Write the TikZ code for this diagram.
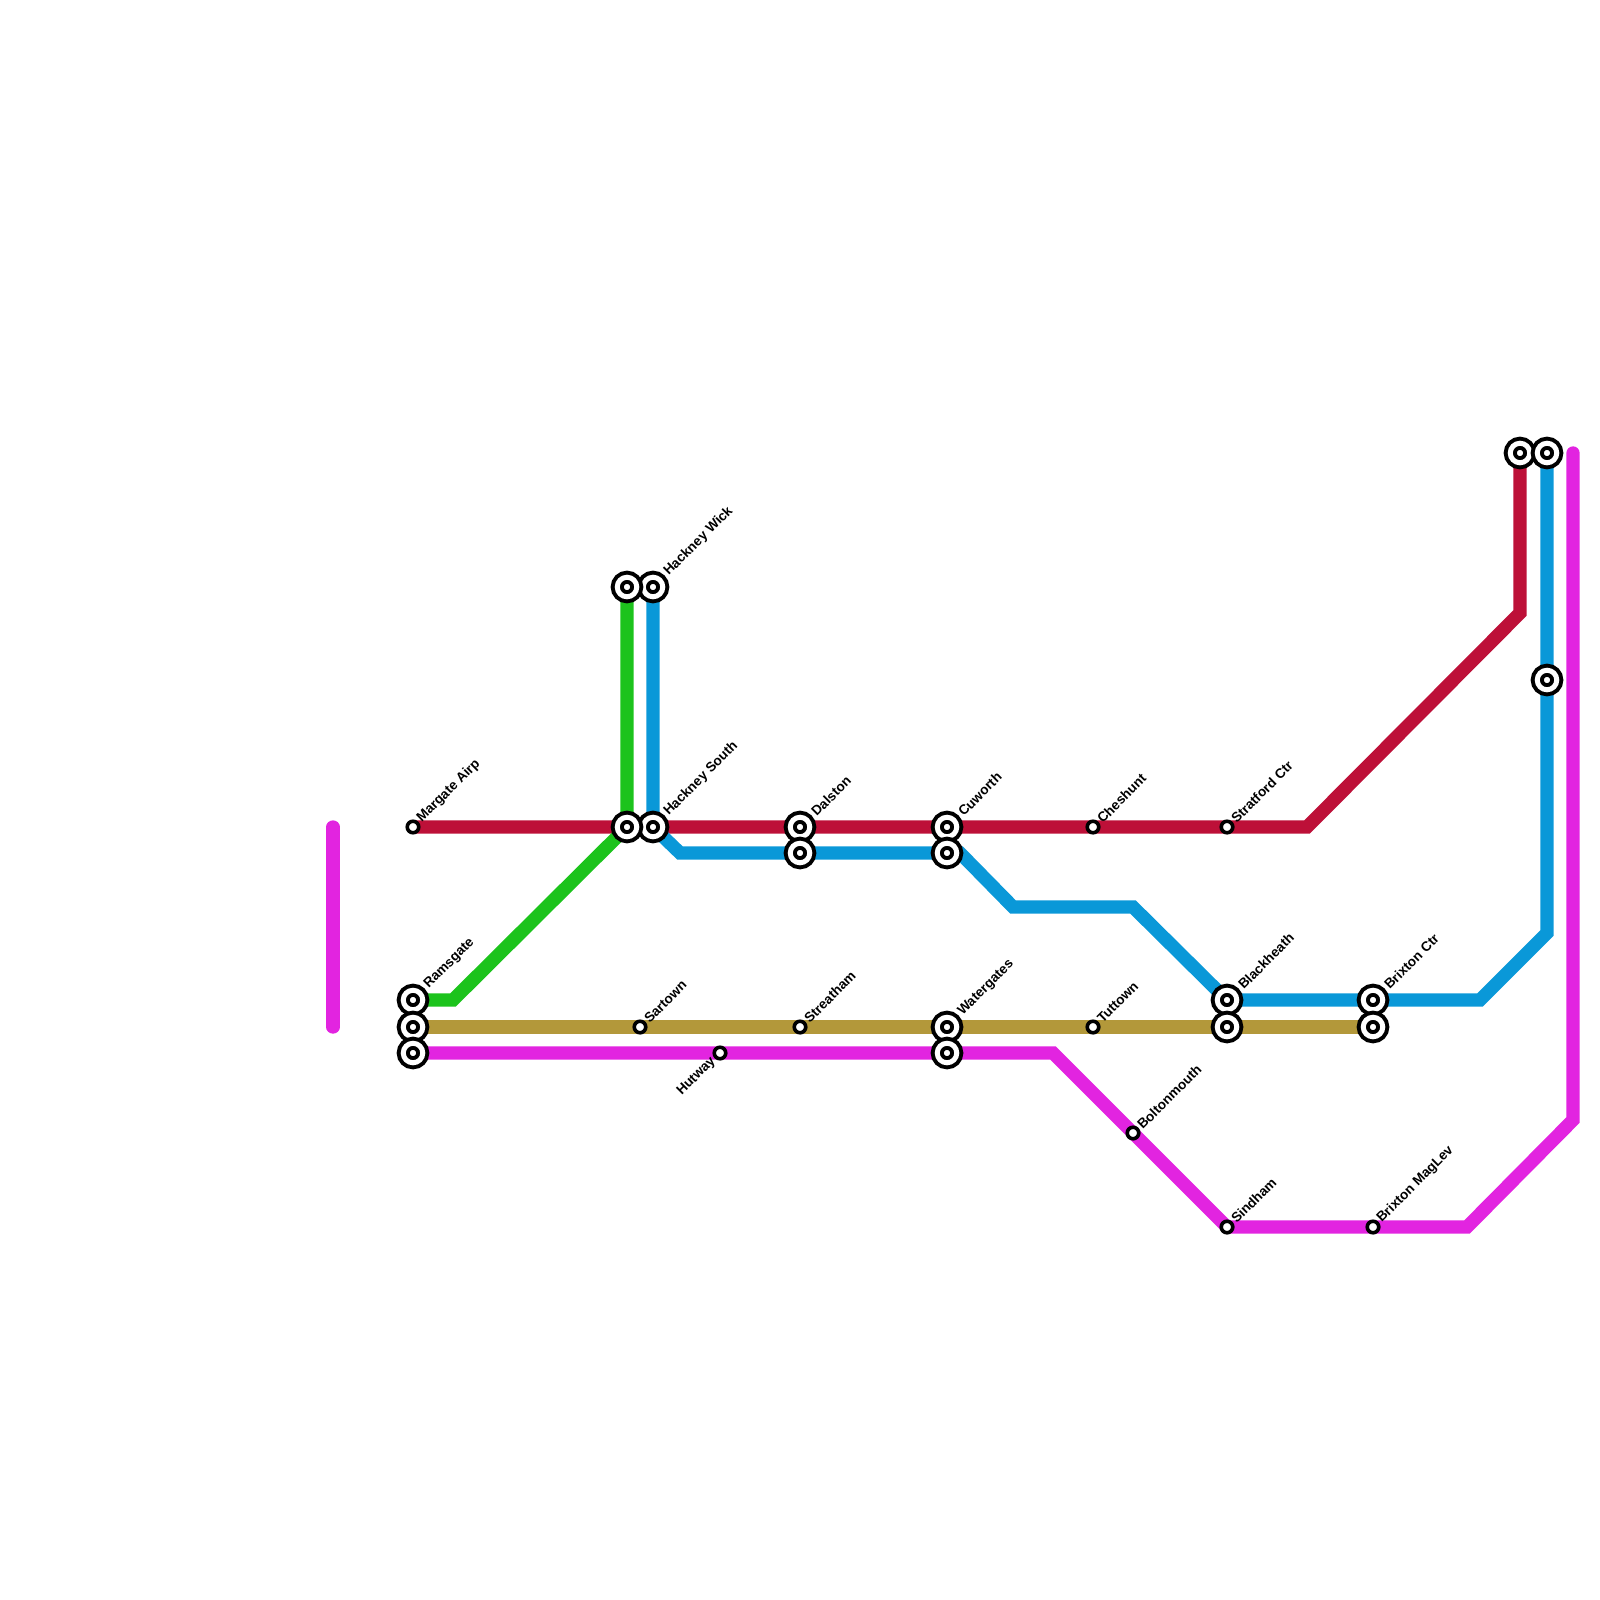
\documentclass[tikz,border=0pt]{standalone}
\usepackage{fontspec}
\setmainfont{Liberation Sans}
\usetikzlibrary{backgrounds}

\definecolor{redline}{RGB}{189,16,56}
\definecolor{greenline}{RGB}{28,195,28}
\definecolor{blueline}{RGB}{10,152,216}
\definecolor{goldline}{RGB}{179,152,58}
\definecolor{pinkline}{RGB}{226,36,224}

\tikzset{
    route/.style={line width=.133cm, line cap=round, line join=miter},
    stop/.style={shape=circle, draw=black, fill=white, line width=.036cm, minimum size=.115cm, inner sep=0pt, outer sep=0pt},
    xchange/.style={shape=circle, draw=black, fill=white, line width=.04cm, double=white, double distance=.05cm, minimum size=.195cm, inner sep=0pt, outer sep=0pt},
    stoptext/.style={rotate=45, anchor=west, inner sep=0pt, font=\bfseries\fontsize{3.85}{5}\selectfont},
}

\begin{document}
\begin{tikzpicture}[x=.01cm, y=-.01cm]
    \useasboundingbox (0,0) rectangle (1600,1600);

    % interchanges with a name beside them
    \foreach \n/\x/\y/\t in {ramsgate/413/1000/Ramsgate, hackneywick/653/587/Hackney Wick, hackneysouth/653/827/Hackney South, dalston/800/827/Dalston, cuworth/947/827/Cuworth, watergates/947/1027/Watergates, blackheath/1227/1000/Blackheath, brixtonctr/1373/1000/Brixton Ctr} {
        \node[xchange] (\n) at (\x,\y) {};
        \node[stoptext] (\n-text) at ([shift={(13,-13)}]\n) {\t};};

    % interchanges without one
    \foreach \n/\x/\y in {goldstart/413/1027, pinkstart/413/1053, greenend/627/587, greenmid/627/827, dalstonb/800/853, cuworthb/947/853, watergatesb/947/1053, blackheathb/1227/1027, goldend/1373/1027, redend/1520/453, blueend/1547/453, bluemid/1547/680} {
        \node[xchange] (\n) at (\x,\y) {};};

    % small stops
    \foreach \n/\x/\y/\t in {margate/413/827/Margate Airp, sartown/640/1027/Sartown, streatham/800/1027/Streatham, cheshunt/1093/827/Cheshunt, stratford/1227/827/Stratford Ctr, tuttown/1093/1027/Tuttown, boltonmouth/1133/1133/Boltonmouth, sindham/1227/1227/Sindham, maglev/1373/1227/Brixton MagLev} {
        \node[stop] (\n) at (\x,\y) {};
        \node[stoptext] (\n-text) at ([shift={(6,-6)}]\n) {\t};};
    \node[stop] (hutway) at (720,1053) {};
    \node[stoptext, anchor=east] (hutway-text) at ([shift={(-6,6)}]hutway) {Hutway};

    % bends
    \coordinate (redA) at (1307,827);
    \coordinate (redB) at (1520,613);
    \coordinate (greenA) at (453,1000);
    \coordinate (blueA) at (680,853);
    \coordinate (blueB) at (960,853);
    \coordinate (blueC) at (1013,907);
    \coordinate (blueD) at (1133,907);
    \coordinate (blueE) at (1480,1000);
    \coordinate (blueF) at (1547,933);
    \coordinate (pinkA) at (1053,1053);
    \coordinate (pinkB) at (1467,1227);
    \coordinate (pinkC) at (1573,1120);
    \coordinate (pinkD) at (1573,453);
    \coordinate (stubA) at (333,827);
    \coordinate (stubB) at (333,1027);

    % lines go under the stations
    \begin{scope}[on background layer]
        \draw[route, redline] (margate.center) -- (redA) -- (redB) -- (redend.center);
        \draw[route, greenline] (ramsgate.center) -- (greenA) -- (greenmid.center) -- (greenend.center);
        \draw[route, blueline] (hackneywick.center) -- (hackneysouth.center) -- (blueA) -- (blueB) -- (blueC) -- (blueD) -- (blackheath.center) -- (blueE) -- (blueF) -- (blueend.center);
        \draw[route, goldline] (goldstart.center) -- (goldend.center);
        \draw[route, pinkline] (pinkstart.center) -- (pinkA) -- (sindham.center) -- (pinkB) -- (pinkC) -- (pinkD);
        \draw[route, pinkline] (stubA) -- (stubB);
    \end{scope}

\end{tikzpicture}
\end{document}
